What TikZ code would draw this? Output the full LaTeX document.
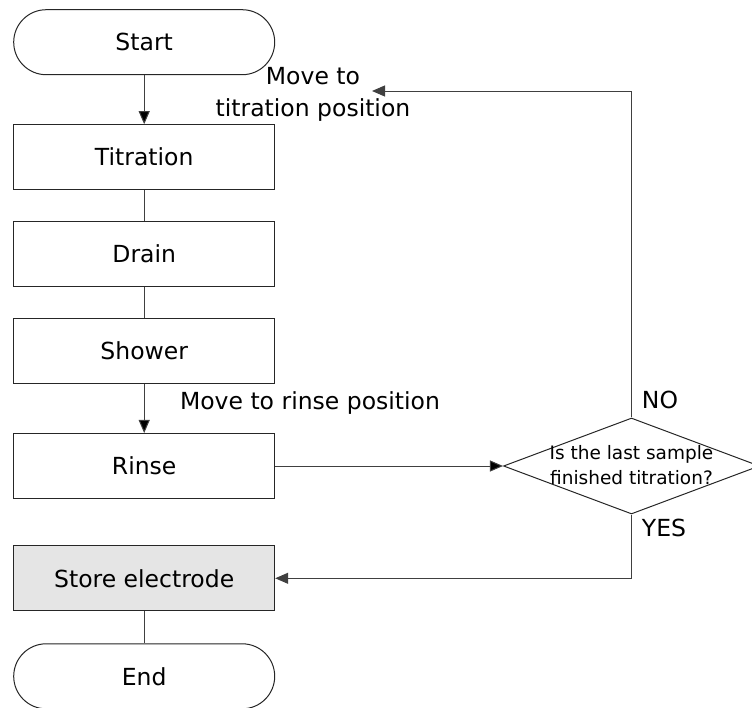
\documentclass[tikz,border=0pt]{standalone}
\usepackage{fontspec}
\setmainfont{DejaVu Sans}
\usetikzlibrary{shapes.misc,shapes.geometric,arrows.meta}

\tikzstyle{terminal}=[
    rounded rectangle,
    line width=1pt,
    minimum width=261pt,
    minimum height=65pt,
    draw=black!85,
    fill=white
]
\tikzstyle{process}=[
    rectangle,
    line width=1pt,
    minimum width=261pt,
    minimum height=65pt,
    draw=black!85,
    fill=white
]
\tikzstyle{store}=[
    process,
    fill=gray!20
]
\tikzstyle{decision}=[
    diamond,
    line width=1pt,
    inner sep=0pt,
    minimum width=256pt,
    minimum height=96pt,
    draw=black!85,
    font=\fontsize{18.5}{25}\selectfont
]
\tikzstyle{note}=[
    align=center,
    inner sep=0pt,
    font=\fontsize{23.5}{32}\selectfont
]

\begin{document}
\begin{tikzpicture}[x=1pt,y=-1pt,>={Triangle[length=13pt,width=11pt]},
    font=\fontsize{23.5}{28}\selectfont]
	\useasboundingbox (0,0) rectangle (752,707);
	\matrix (flow) [row sep=31pt,column sep=228pt,inner sep=0pt,
	    anchor=north west,nodes={anchor=center}] at (13,9) {
		\node (start) [terminal]{Start}; & \\[18pt]
		\node (titration) [process]{Titration}; & \\
		\node (drain) [process]{Drain}; & \\
		\node (shower) [process]{Shower}; & \\[2.5pt]
		\node (rinse) [process]{Rinse}; &
		\node (check) [decision]{\smash{\makebox[0pt]{\raisebox{-5.5pt}{%
		    \begin{tabular}{@{}c@{}}Is the last sample\\finished titration?\end{tabular}}}}}; \\
		\node (store) [store]{Store electrode}; & \\[1pt]
		\node (end) [terminal]{End}; & \\
	};

	% labels on the moves
	\node (movetit) [note] at (313,94) {Move to\\titration position};
	\node (moverinse) [note] at (310,403) {Move to rinse position};
	\node (no) [note] at (660,400) {NO};
	\node (yes) [note] at (664,528) {YES};
	\coordinate (retry) at (372,91);

	\path[->,line width=1pt,draw=black!75]
	% Down the main column
	(start) edge (titration)
	(titration) edge[-] (drain)
	(drain) edge[-] (shower)
	(shower) edge (rinse)
	(store) edge[-] (end)

	% Rinse into the check
	(rinse) edge (check)
	;
	% NO: back to titration, YES: on to storage
	\draw[->,line width=1pt,draw=black!75] (check.north) |- (retry);
	\draw[->,line width=1pt,draw=black!75] (check.south) |- (store);
\end{tikzpicture}
\end{document}
